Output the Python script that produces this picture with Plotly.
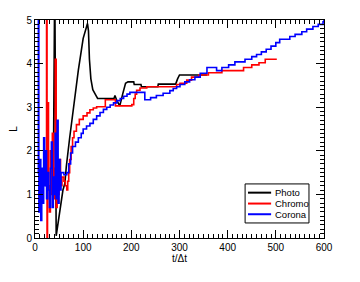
import plotly.graph_objects as go

# Photo (black) series
photo_t = [38, 41, 44, 47, 52, 58, 62, 65, 72, 79, 83, 90, 100, 106, 109, 111, 113, 116, 120, 125, 130,
           164, 166, 170, 176, 182, 188, 193, 205, 206, 220, 221, 255, 256, 292, 296, 300, 357]
photo_L = [1.2, 6.0, 0.05, 0.3, 0.7, 1.1, 1.25, 1.64, 2.3, 2.94, 3.28, 3.85, 4.58, 4.8, 4.92, 4.75, 4.1, 3.65, 3.4, 3.3, 3.2,
           3.2, 3.27, 3.15, 3.03, 3.3, 3.55, 3.58, 3.58, 3.52, 3.52, 3.47, 3.47, 3.53, 3.53, 3.65, 3.74, 3.74]

# Chromo (red) series (step)
chromo_t = [22, 24, 25, 26, 28, 30, 32, 34, 36, 38, 40, 42, 44, 46, 48, 50, 53, 56, 60, 63, 66, 68, 70, 72, 75, 78, 81,
            86, 92, 100, 108, 114, 121, 128, 146, 167, 201, 205, 208, 211, 218, 232,
            280, 294, 301, 315, 325, 340, 360, 388, 433, 450, 465, 478, 502]
chromo_L = [1.2, 6.0, 0.0, 3.1, 1.2, 0.6, 2.0, 1.0, 2.4, 0.9, 1.6, 4.1, 0.7, 1.5, 1.0, 1.8, 1.2, 1.4, 1.3, 1.2, 1.1, 1.3, 1.5, 1.8, 2.1, 2.3, 2.45,
            2.6, 2.72, 2.8, 2.87, 2.94, 2.98, 3.01, 3.17, 3.03, 3.06, 3.2, 3.3, 3.39, 3.44, 3.47,
            3.47, 3.52, 3.55, 3.62, 3.69, 3.74, 3.79, 3.84, 3.91, 3.97, 4.02, 4.1, 4.1]

# Corona (blue) series (step)
corona_t = [5, 7, 8, 10, 12, 14, 16, 18, 20, 22, 24, 26, 28, 30, 32, 34, 36, 38, 40, 42, 44, 46, 48, 50, 52, 54,
            60, 66, 70, 74, 78, 84, 90, 96, 100, 107, 114, 121, 128, 135, 142, 149, 156, 163, 170, 177, 184, 191, 197,
            228, 232, 240, 252, 266, 280, 287, 294, 301, 311, 321, 332, 343, 357, 363, 377, 388, 402, 415,
            436, 450, 460, 470, 480, 490, 500, 508, 529, 540, 554, 564, 577, 588, 598, 600]
corona_L = [1.5, 6.0, 0.6, 1.8, 0.4, 1.6, 0.8, 2.3, 1.2, 2.0, 0.9, 1.5, 1.1, 0.7, 1.6, 2.2, 0.7, 1.4, 1.0, 2.4, 0.9, 2.7, 0.8, 1.8, 1.1, 1.5,
            1.45, 1.5, 1.7, 1.95, 2.1, 2.2, 2.3, 2.4, 2.5, 2.57, 2.63, 2.72, 2.8, 2.88, 2.95, 3.0, 3.05, 3.1, 3.15, 3.2, 3.25, 3.3, 3.34,
            3.17, 3.17, 3.22, 3.27, 3.32, 3.38, 3.43, 3.47, 3.52, 3.58, 3.63, 3.69, 3.78, 3.91, 3.91, 3.84, 3.91, 3.97, 4.04,
            4.1, 4.16, 4.21, 4.27, 4.33, 4.4, 4.48, 4.56, 4.62, 4.67, 4.73, 4.79, 4.85, 4.9, 4.96, 5.0]

series_names = ["Photo", "Chromo", "Corona"]
series_colors = ["black", "#ff0000", "#0000ff"]

x_ticks = [0, 100, 200, 300, 400, 500, 600]
y_ticks = [0, 1, 2, 3, 4, 5]

fig = go.Figure()
fig.add_trace(go.Scatter(x=photo_t, y=photo_L, mode="lines", name=series_names[0],
                         line=dict(color=series_colors[0], width=1.6)))
fig.add_trace(go.Scatter(x=chromo_t, y=chromo_L, mode="lines", name=series_names[1],
                         line=dict(color=series_colors[1], width=1.6, shape="hv")))
fig.add_trace(go.Scatter(x=corona_t, y=corona_L, mode="lines", name=series_names[2],
                         line=dict(color=series_colors[2], width=1.6, shape="hv")))

font_family = "Liberation Sans, Arial, sans-serif"
axis_common = dict(showline=True, linecolor="black", linewidth=1, mirror="ticks",
                   ticks="inside", ticklen=8, tickcolor="black", tickwidth=1,
                   showgrid=False, zeroline=False, automargin=False,
                   tickfont=dict(family=font_family, size=10, color="black"))

fig.update_xaxes(range=[0, 600], tickvals=x_ticks, ticktext=[str(v) for v in x_ticks],
                 minor=dict(dtick=10, ticks="inside", ticklen=4, tickcolor="black", showgrid=False),
                 title=dict(text="t/Δt", font=dict(family=font_family, size=10, color="black"), standoff=2),
                 **axis_common)
fig.update_yaxes(range=[0, 5], tickvals=y_ticks, ticktext=[str(v) for v in y_ticks],
                 minor=dict(dtick=0.1, ticks="inside", ticklen=4, tickcolor="black", showgrid=False),
                 title=dict(text="L", font=dict(family=font_family, size=10, color="black"), standoff=6),
                 **axis_common)

# Compact legend box drawn in paper coordinates
box_x0, box_x1, box_y0, box_y1 = 0.727, 0.948, 0.069, 0.248
line_x0, line_x1, text_x = 0.737, 0.817, 0.825
row_y = [0.208, 0.158, 0.109]
shapes = [dict(type="rect", xref="paper", yref="paper", x0=box_x0, x1=box_x1, y0=box_y0, y1=box_y1,
               line=dict(color="black", width=1), fillcolor="white", layer="above")]
annotations = []
for name, color, ry in zip(series_names, series_colors, row_y):
    shapes.append(dict(type="line", xref="paper", yref="paper", x0=line_x0, x1=line_x1, y0=ry, y1=ry,
                       line=dict(color=color, width=2), layer="above"))
    annotations.append(dict(xref="paper", yref="paper", x=text_x, y=ry, text=name, showarrow=False,
                            xanchor="left", yanchor="middle",
                            font=dict(family=font_family, size=9.5, color="black")))

fig.update_layout(
    template="none",
    width=352, height=274,
    margin=dict(l=27, r=36, t=12, b=44),
    plot_bgcolor="white", paper_bgcolor="white",
    font=dict(family=font_family, size=10, color="black"),
    showlegend=False,
    shapes=shapes,
    annotations=annotations,
)

fig.write_html("out.html")
